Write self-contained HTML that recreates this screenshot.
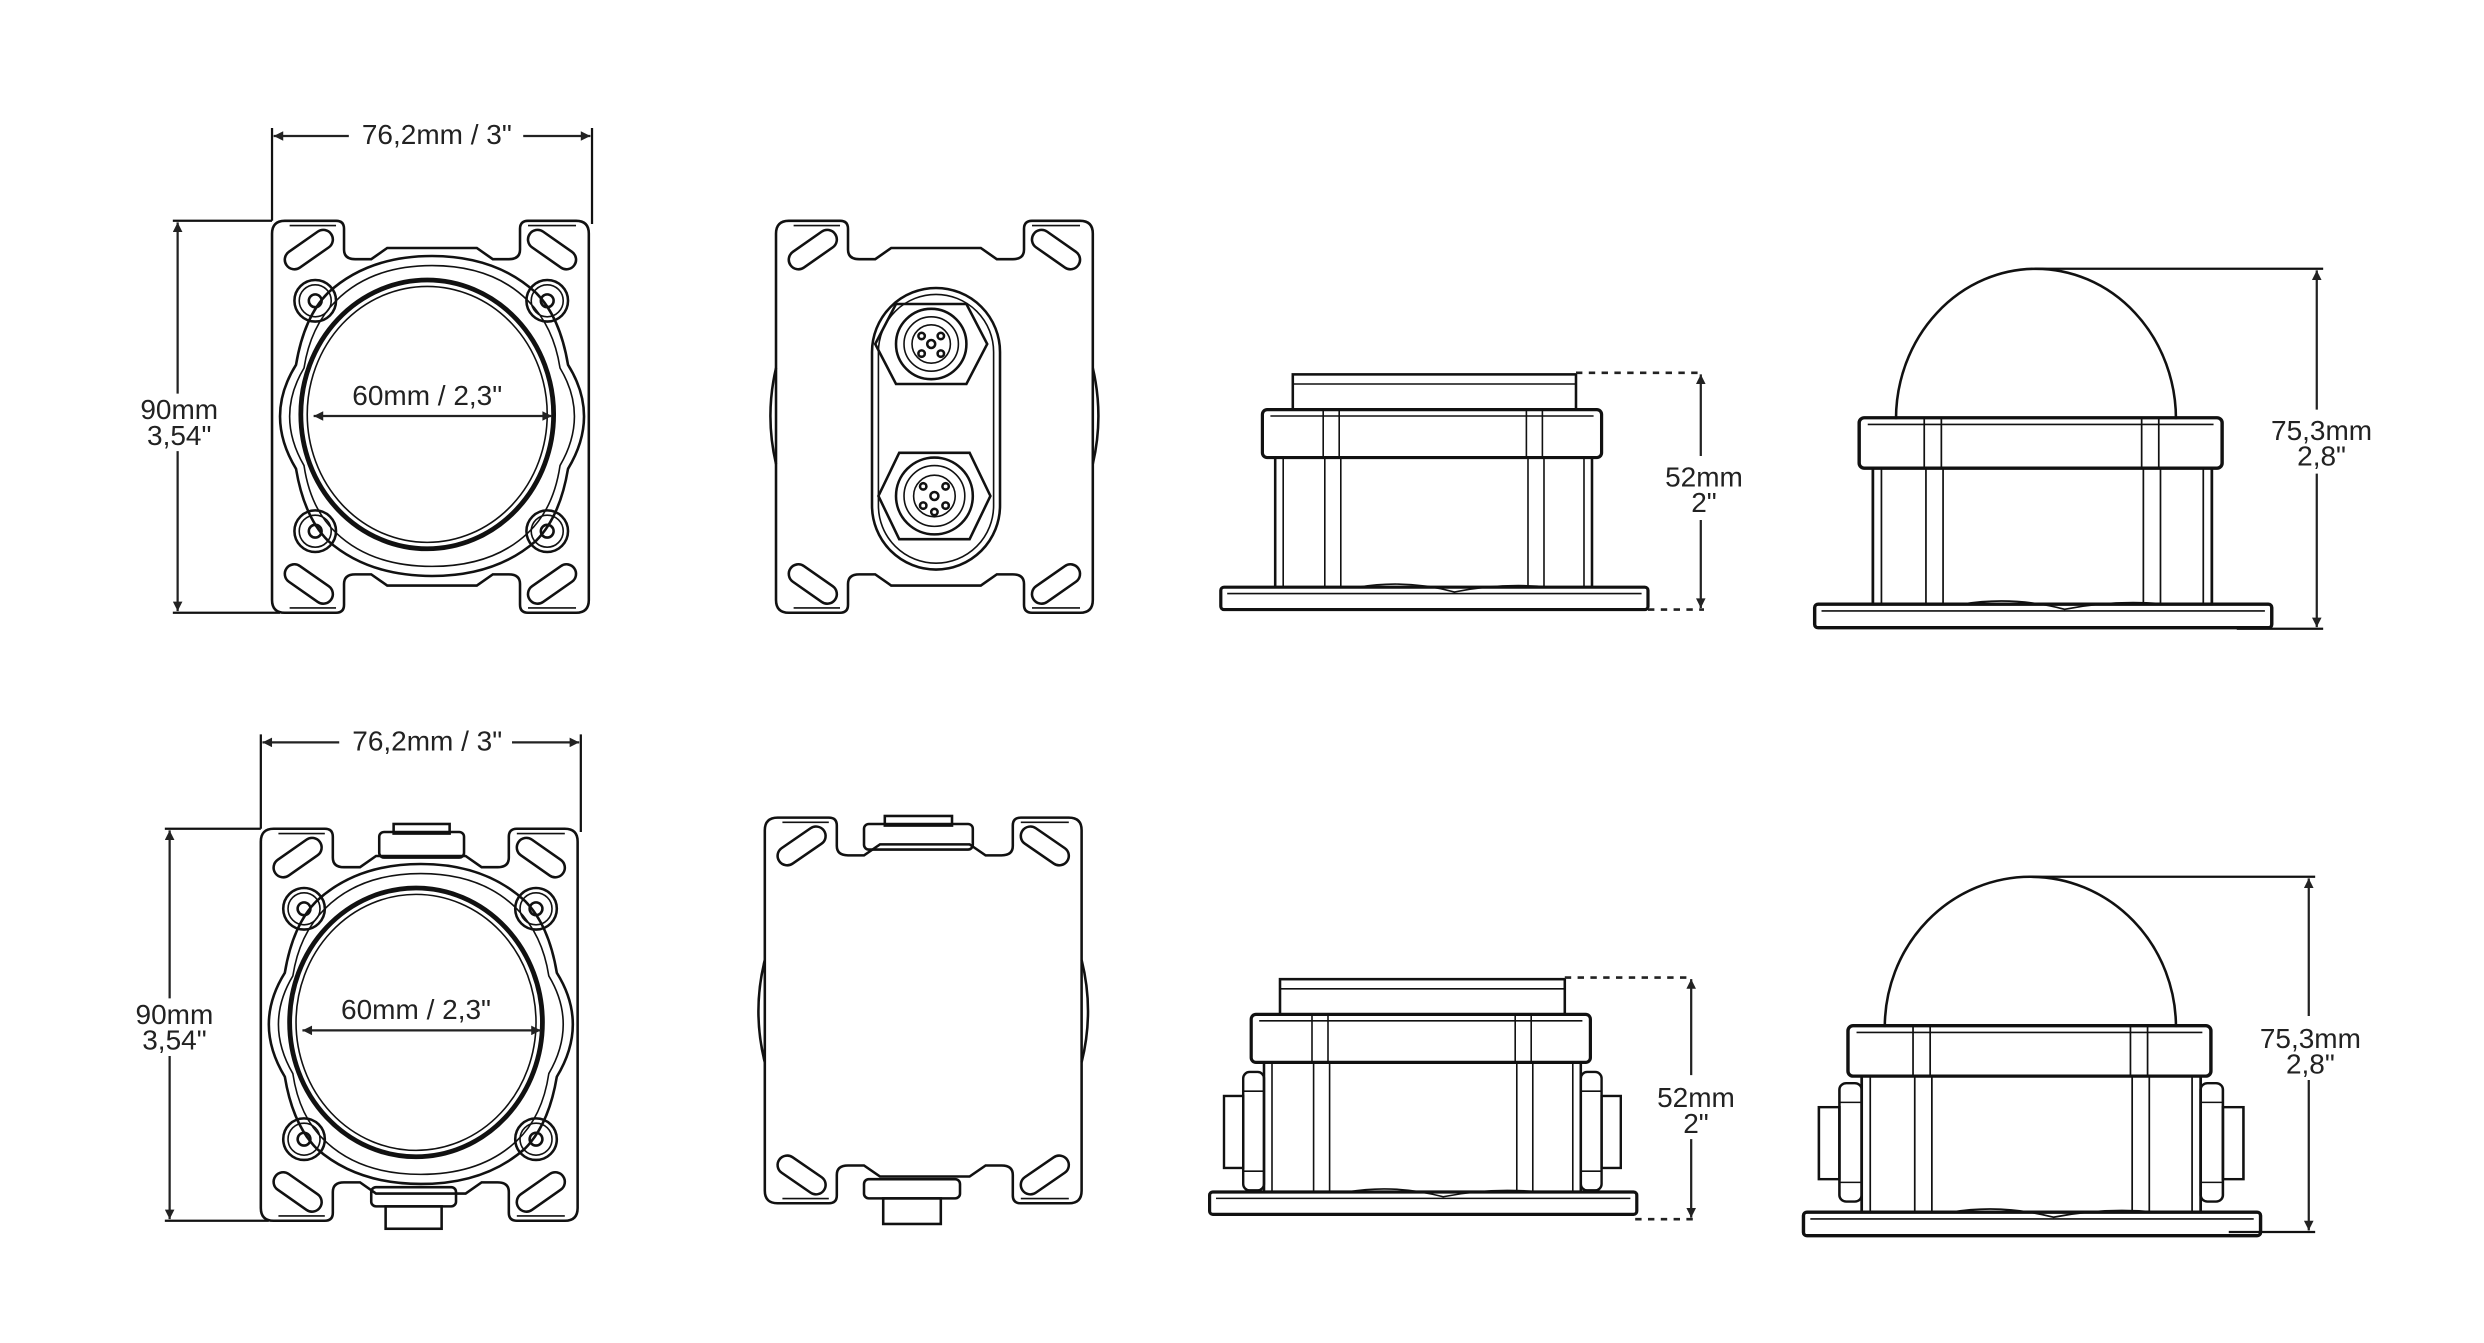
<!DOCTYPE html>
<html><head><meta charset="utf-8"><style>
html,body{margin:0;padding:0;background:#fff}
svg{display:block}
text{font-family:"Liberation Sans",sans-serif;font-size:17.5px;fill:#222;text-anchor:middle}
</style></head><body>
<svg width="2484" height="1343" viewBox="0 0 1552.5 839.4" xmlns="http://www.w3.org/2000/svg">
<defs>
<marker id="a" viewBox="0 0 10 10" refX="10" refY="5" markerWidth="9" markerHeight="6" orient="auto-start-reverse" markerUnits="userSpaceOnUse"><path d="M0,0 L10,5 L0,10 Z" fill="#222"/></marker>
<g id="plate" fill="none" stroke="#111" stroke-width="1.6">
<path d="M8,0 H40 Q45,0 45,5 V18 Q45,24 52,24 L62,24 L72,17 H128 L138,24 H148 Q155,24 155,18 V5 Q155,0 160,0 H190 Q198,0 198,8 V237 Q198,245 190,245 H160 Q155,245 155,240 V227 Q155,221 148,221 H138 L128,228 H72 L62,221 H52 Q45,221 45,227 V240 Q45,245 40,245 H8 Q0,245 0,237 V8 Q0,0 8,0 Z"/>
<path d="M11,3 H40 M160,3 H190 M11,242 H40 M160,242 H190" stroke-width="1"/>
<rect x="6" y="12" width="34" height="12" rx="6" transform="rotate(-35 23 18)"/>
<rect x="158" y="12" width="34" height="12" rx="6" transform="rotate(35 175 18)"/>
<rect x="6" y="221" width="34" height="12" rx="6" transform="rotate(35 23 227)"/>
<rect x="158" y="221" width="34" height="12" rx="6" transform="rotate(-35 175 227)"/>
</g>
<g id="front" fill="none" stroke="#111" stroke-width="1.6">
<use href="#plate"/>
<path d="M35,45 Q60,22 100,22 Q140,22 165,45 Q180,60 185,90 Q205,122 185,155 Q180,185 165,200 Q140,222 100,222 Q60,222 35,200 Q20,185 15,155 Q-5,122 15,90 Q20,60 35,45 Z"/>
<path d="M40,50 Q62,28 100,28 Q138,28 160,50 Q176,66 180,92 Q198,122 180,153 Q176,180 160,195 Q138,216 100,216 Q62,216 40,195 Q24,180 20,153 Q2,122 20,92 Q24,66 40,50 Z" stroke-width="1"/>
<ellipse cx="97" cy="121" rx="79" ry="84" stroke-width="3"/>
<ellipse cx="97" cy="121" rx="75" ry="80" stroke-width="1"/>
<circle cx="27" cy="50" r="13"/><circle cx="27" cy="50" r="10" stroke-width="1"/><circle cx="27" cy="50" r="4"/>
<circle cx="172" cy="50" r="13"/><circle cx="172" cy="50" r="10" stroke-width="1"/><circle cx="172" cy="50" r="4"/>
<circle cx="27" cy="194" r="13"/><circle cx="27" cy="194" r="10" stroke-width="1"/><circle cx="27" cy="194" r="4"/>
<circle cx="172" cy="194" r="13"/><circle cx="172" cy="194" r="10" stroke-width="1"/><circle cx="172" cy="194" r="4"/>
</g>
<g id="sideA" fill="none" stroke="#111" stroke-width="1.6">
<rect x="8" y="32" width="198" height="81"/>
<path d="M13,32 V113 M39,32 V113 M49,32 V113 M166,32 V113 M176,32 V113 M201,32 V113" stroke-width="1"/>
<rect x="0" y="2" width="212" height="30" rx="3" stroke-width="2"/>
<path d="M5,6 H207 M38,2 V32 M48,2 V32 M165,2 V32 M175,2 V32" stroke-width="1"/>
<rect x="-26" y="113" width="267" height="14" rx="2" stroke-width="2"/>
<path d="M-22,117 H237 M60,113 Q90,108 120,116 Q150,110 180,113" stroke-width="1"/>
</g>
<g id="glands" fill="none" stroke="#111" stroke-width="1.5">
<rect x="-5" y="38" width="13" height="74" rx="4"/><path d="M-5,50 H8 M-5,100 H8" stroke-width="1"/><rect x="-17" y="53" width="12" height="45"/>
<rect x="206" y="38" width="13" height="74" rx="4"/><path d="M206,50 H219 M206,100 H219" stroke-width="1"/><rect x="219" y="53" width="12" height="45"/>
</g>
</defs>

<!-- TOP ROW -->
<use href="#front" x="170" y="138"/>
<path d="M170,80 V138 M370,80 V140" stroke="#111" stroke-width="1.4"/>
<line x1="171" y1="85" x2="218" y2="85" stroke="#222" stroke-width="1.4" marker-start="url(#a)"/>
<line x1="327" y1="85" x2="369" y2="85" stroke="#222" stroke-width="1.4" marker-end="url(#a)"/>
<text x="273" y="90">76,2mm / 3"</text>
<path d="M108,138 H170 M108,383 H175" stroke="#111" stroke-width="1.4"/>
<line x1="111" y1="139" x2="111" y2="246" stroke="#222" stroke-width="1.4" marker-start="url(#a)"/>
<line x1="111" y1="282" x2="111" y2="382" stroke="#222" stroke-width="1.4" marker-end="url(#a)"/>
<text x="112" y="262">90mm</text><text x="112" y="278">3,54"</text>
<text x="267" y="253">60mm / 2,3"</text>
<line x1="196" y1="260" x2="345" y2="260" stroke="#222" stroke-width="1.4" marker-start="url(#a)" marker-end="url(#a)"/>

<g fill="none" stroke="#111" stroke-width="1.6">
<use href="#plate" x="485" y="138"/>
<path d="M485,230 Q478,260 485,290 M683,230 Q690,260 683,290"/>
<rect x="545" y="180" width="80" height="176" rx="40"/>
<rect x="549" y="184" width="72" height="168" rx="36" stroke-width="1"/>
<path d="M560,190 H604 L617,215 L604,240 H560 L547,215 Z"/>
<circle cx="582" cy="215" r="22"/><circle cx="582" cy="215" r="17" stroke-width="1"/><circle cx="582" cy="215" r="12" stroke-width="1"/>
<circle cx="582" cy="215" r="2.5"/><circle cx="576" cy="210" r="2"/><circle cx="588" cy="210" r="2"/><circle cx="576" cy="221" r="2"/><circle cx="588" cy="221" r="2"/>
<path d="M562,283 H606 L619,310 L606,337 H562 L549,310 Z"/>
<circle cx="584" cy="310" r="24"/><circle cx="584" cy="310" r="19" stroke-width="1"/><circle cx="584" cy="310" r="13" stroke-width="1"/>
<circle cx="584" cy="310" r="2.5"/><circle cx="577" cy="304" r="2"/><circle cx="591" cy="304" r="2"/><circle cx="577" cy="316" r="2"/><circle cx="591" cy="316" r="2"/><circle cx="584" cy="320" r="2"/>
</g>

<g fill="none" stroke="#111" stroke-width="1.6">
<rect x="808" y="234" width="177" height="22"/><line x1="808" y1="240" x2="985" y2="240" stroke-width="1"/>
</g>
<use href="#sideA" x="789" y="254"/>
<path d="M985,233 H1065 M1030,381 H1065" stroke="#222" stroke-width="1.6" stroke-dasharray="4,4"/>
<line x1="1063" y1="234" x2="1063" y2="285" stroke="#222" stroke-width="1.4" marker-start="url(#a)"/>
<line x1="1063" y1="325" x2="1063" y2="380" stroke="#222" stroke-width="1.4" marker-end="url(#a)"/>
<text x="1065" y="304">52mm</text><text x="1065" y="320">2"</text>

<path d="M1185,262 A87.5,94 0 0 1 1360,262" fill="none" stroke="#111" stroke-width="1.6"/>
<use href="#sideA" x="1162" y="259" transform="translate(1162 259) scale(1.07 1.05) translate(-1162 -259)"/>
<path d="M1272,168 H1452 M1398,393 H1452" stroke="#111" stroke-width="1.4"/>
<line x1="1448" y1="169" x2="1448" y2="256" stroke="#222" stroke-width="1.4" marker-start="url(#a)"/>
<line x1="1448" y1="296" x2="1448" y2="392" stroke="#222" stroke-width="1.4" marker-end="url(#a)"/>
<text x="1451" y="275">75,3mm</text><text x="1451" y="291">2,8"</text>

<!-- BOTTOM ROW -->
<g fill="none" stroke="#111" stroke-width="1.6">
<rect x="237" y="520" width="53" height="16" rx="3"/><rect x="246" y="515" width="35" height="6"/>
<rect x="232" y="742" width="53" height="12" rx="3"/><rect x="241" y="754" width="35" height="14"/>
</g>
<use href="#front" x="163" y="518"/>
<path d="M163,459 V518 M363,459 V520" stroke="#111" stroke-width="1.4"/>
<line x1="164" y1="464" x2="212" y2="464" stroke="#222" stroke-width="1.4" marker-start="url(#a)"/>
<line x1="320" y1="464" x2="362" y2="464" stroke="#222" stroke-width="1.4" marker-end="url(#a)"/>
<text x="267" y="469">76,2mm / 3"</text>
<path d="M103,518 H163 M103,763 H168" stroke="#111" stroke-width="1.4"/>
<line x1="106" y1="519" x2="106" y2="624" stroke="#222" stroke-width="1.4" marker-start="url(#a)"/>
<line x1="106" y1="660" x2="106" y2="762" stroke="#222" stroke-width="1.4" marker-end="url(#a)"/>
<text x="109" y="640">90mm</text><text x="109" y="656">3,54"</text>
<text x="260" y="637">60mm / 2,3"</text>
<line x1="189" y1="644" x2="338" y2="644" stroke="#222" stroke-width="1.4" marker-start="url(#a)" marker-end="url(#a)"/>

<g fill="none" stroke="#111" stroke-width="1.6">
<rect x="540" y="515" width="68" height="16" rx="3"/><rect x="553" y="510" width="42" height="6"/>
<rect x="540" y="737" width="60" height="12" rx="3"/><rect x="552" y="749" width="36" height="16"/>
<use href="#plate" x="478" y="511" transform="translate(478 511) scale(1 0.984) translate(-478 -511)"/>
<path d="M478,600 Q470,632 478,664 M676,600 Q684,632 676,664"/>
</g>

<g fill="none" stroke="#111" stroke-width="1.6">
<rect x="800" y="612" width="178" height="22"/><line x1="800" y1="618" x2="978" y2="618" stroke-width="1"/>
</g>
<use href="#glands" x="782" y="632"/>
<use href="#sideA" x="782" y="632"/>
<path d="M978,611 H1058 M1022,762 H1058" stroke="#222" stroke-width="1.6" stroke-dasharray="4,4"/>
<line x1="1057" y1="612" x2="1057" y2="672" stroke="#222" stroke-width="1.4" marker-start="url(#a)"/>
<line x1="1057" y1="712" x2="1057" y2="761" stroke="#222" stroke-width="1.4" marker-end="url(#a)"/>
<text x="1060" y="692">52mm</text><text x="1060" y="708">2"</text>

<path d="M1178,642 A91,94 0 0 1 1360,642" fill="none" stroke="#111" stroke-width="1.6"/>
<use href="#glands" x="1155" y="639" transform="translate(1155 639) scale(1.07 1) translate(-1155 -639)"/>
<use href="#sideA" x="1155" y="639" transform="translate(1155 639) scale(1.07 1.05) translate(-1155 -639)"/>
<path d="M1268,548 H1447 M1393,770 H1447" stroke="#111" stroke-width="1.4"/>
<line x1="1443" y1="549" x2="1443" y2="635" stroke="#222" stroke-width="1.4" marker-start="url(#a)"/>
<line x1="1443" y1="675" x2="1443" y2="769" stroke="#222" stroke-width="1.4" marker-end="url(#a)"/>
<text x="1444" y="655">75,3mm</text><text x="1444" y="671">2,8"</text>
</svg>
</body></html>
